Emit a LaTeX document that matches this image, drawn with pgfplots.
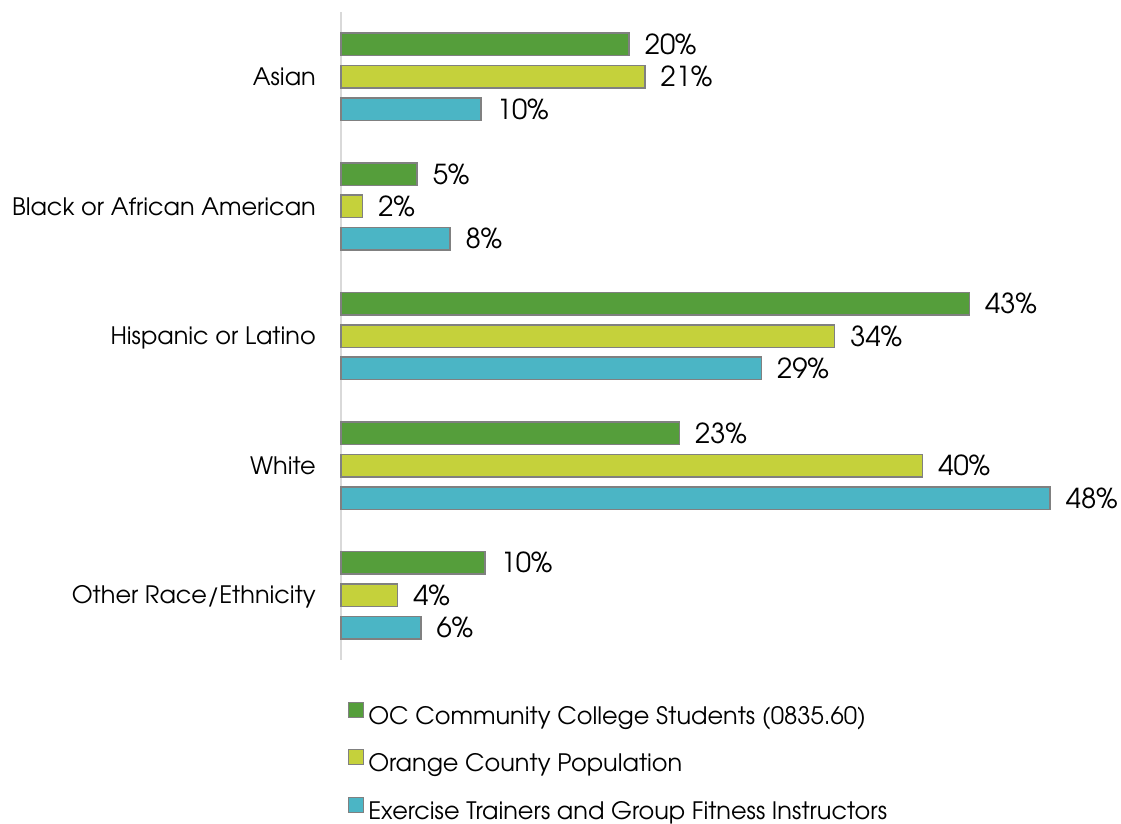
\documentclass[border=0pt]{standalone}
\usepackage{fontspec}
\setmainfont{texgyreadventor}[Extension=.otf, UprightFont=*-regular, BoldFont=*-bold]
\usepackage{pgfplots}
\pgfplotsset{compat=1.18}
\definecolor{cgreen}{HTML}{559E3B}
\definecolor{cyellow}{HTML}{C5D13B}
\definecolor{ccyan}{HTML}{4BB5C5}
\definecolor{cborder}{HTML}{808080}
\definecolor{caxis}{HTML}{D9D9D9}
\begin{document}
\begin{tikzpicture}
\path[use as bounding box] (-341pt,-163pt) rectangle (780pt,660pt);
\begin{axis}[
  at={(0pt,0pt)}, anchor=south west,
  scale only axis, width=732.5pt, height=648pt,
  xmin=0, xmax=50, ymin=-0.5, ymax=4.5, y dir=reverse,
  clip=false,
  axis x line=none, axis y line*=left,
  y axis line style={draw=caxis, line width=1.5pt},
  xtick=\empty,
  ytick={0,1,2,3,4},
  yticklabels={Asian,Black or African American,Hispanic or Latino,White,Other Race/Ethnicity},
  major tick length=0pt, ytick style={draw=none},
  yticklabel style={font=\fontsize{24}{28}\selectfont, anchor=east, inner sep=0pt, xshift=-25pt, text height=17.5pt, text depth=0pt},
  point meta=explicit symbolic,
  nodes near coords={\pgfplotspointmeta\%},
  every node near coord/.append style={font=\fontsize{27.5}{32}\selectfont, anchor=west, inner sep=0pt, xshift=15pt, text=black},
  legend cell align=left,
  legend image code/.code={\draw[#1, line width=1.2pt] (0pt,1pt) rectangle (15pt,16pt);},
  legend style={at={(axis description cs:0.0095,-0.064)}, anchor=north west, draw=none, fill=none,
    inner sep=0pt, row sep=20pt, column sep=4pt,
    font=\fontsize{24}{28}\selectfont,
    nodes={inner sep=0pt, text height=17pt, text depth=5pt}},
]
\addplot[xbar, bar shift=0pt, bar width=22.5pt, fill=cgreen, draw=cborder, line width=1.5pt]
  table[x=v, y=p, meta=l] {
p v l
-0.25 19.66 20
0.75 5.2 5
1.75 42.9 43
2.75 23.1 23
3.75 9.83 10
};
\addlegendentry{OC Community College Students (0835.60)}
\addplot[xbar, bar shift=0pt, bar width=22.5pt, fill=cyellow, draw=cborder, line width=1.5pt]
  table[x=v, y=p, meta=l] {
p v l
0 20.75 21
1 1.48 2
2 33.7 34
3 39.7 40
4 3.87 4
};
\addlegendentry{Orange County Population}
\addplot[xbar, bar shift=0pt, bar width=22.5pt, fill=ccyan, draw=cborder, line width=1.5pt]
  table[x=v, y=p, meta=l] {
p v l
0.25 9.56 10
1.25 7.44 8
2.25 28.7 29
3.25 48.4 48
4.25 5.46 6
};
\addlegendentry{Exercise Trainers and Group Fitness Instructors}
\end{axis}
\end{tikzpicture}
\end{document}
